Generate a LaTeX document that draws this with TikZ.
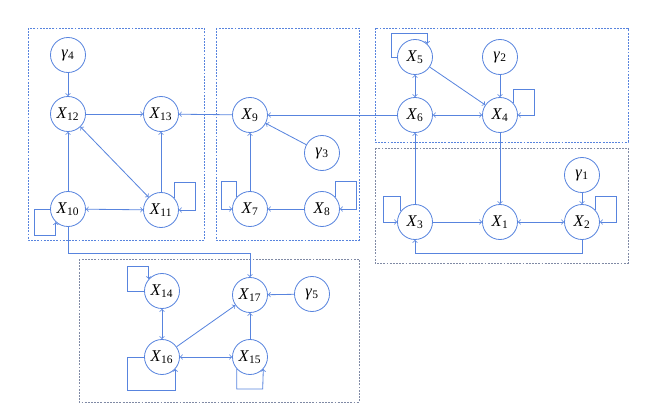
\documentclass[tikz,border=0pt]{standalone}
\usepackage{fontspec}
\setmainfont{Liberation Serif}
\usepackage{tikz}
\definecolor{netblue}{RGB}{88,132,222}
\definecolor{boxgray}{RGB}{128,138,165}
\newcommand{\Xv}[1]{\textit{X}\textsubscript{#1}}
\newcommand{\Gv}[1]{\textit{γ}\textsubscript{#1}}
\def\Network{
    \draw[cluster] (28,28) rectangle (204,240);
    \draw[cluster] (216,28) rectangle (359,240);
    \draw[cluster] (375,28) rectangle (628,142);
    \draw[cluster,boxgray] (375,148) rectangle (628,263);
    \draw[cluster,boxgray] (79,259) rectangle (359,402);
    \node[var] (g4) at (68,55) {\Gv{4}};
    \node[var] (x12) at (68,114) {\Xv{12}};
    \node[var] (x13) at (161,114) {\Xv{13}};
    \node[var] (x10) at (68,209) {\Xv{10}};
    \node[var] (x11) at (161,210) {\Xv{11}};
    \node[var] (x9) at (250,115) {\Xv{9}};
    \node[var] (g3) at (322,153) {\Gv{3}};
    \node[var] (x7) at (250,209) {\Xv{7}};
    \node[var] (x8) at (322,209) {\Xv{8}};
    \node[var] (x5) at (415,57) {\Xv{5}};
    \node[var] (g2) at (500,57) {\Gv{2}};
    \node[var] (x6) at (415,115) {\Xv{6}};
    \node[var] (x4) at (500,115) {\Xv{4}};
    \node[var] (g1) at (582,175) {\Gv{1}};
    \node[var] (x3) at (415,222) {\Xv{3}};
    \node[var] (x1) at (500,222) {\Xv{1}};
    \node[var] (x2) at (582,222) {\Xv{2}};
    \node[var] (x14) at (162,291) {\Xv{14}};
    \node[var] (x17) at (250,295) {\Xv{17}};
    \node[var] (g5) at (312,294) {\Gv{5}};
    \node[var] (x16) at (162,357) {\Xv{16}};
    \node[var] (x15) at (250,357) {\Xv{15}};
}

\begin{document}
\begin{tikzpicture}[x=0.03cm,y=-0.03cm,
    cluster/.style={netblue,line width=0.5pt,dash pattern=on 1.6pt off 1.1pt},
    var/.style={circle,draw=netblue,line width=0.7pt,minimum size=1.05cm,inner sep=0pt,font=\fontsize{14}{16}\selectfont},
    edge/.style={netblue,line width=0.7pt,->},
    both/.style={netblue,line width=0.7pt,<->}]
    \useasboundingbox (0,0) rectangle (664,413);
    \Network

    \draw[edge] (g4) -- (x12);
    \draw[edge] (x12) -- (x13);
    \draw[edge] (x10) -- (x12);
    \draw[both] (x12) -- (x11);
    \draw[edge] (x11) -- (x13);
    \draw[both] (x10) -- (x11);
    \draw[edge] (x10.west) -| ++(-15.5,26) -| (x10.227);
    \draw[edge] (x11.42) |- ++(21,-15.3) |- (x11.east);

    \draw[edge] (x9) -- (x13);
    \draw[edge] (x6) -- (x9);
    \draw[edge] (g3) -- (x9);
    \draw[edge] (x7) -- (x9);
    \draw[edge] (x8) -- (x7);
    \draw[edge] (x7.138) |- ++(-15,-15.3) |- (x7.west);
    \draw[edge] (x8.42) |- ++(21,-15.3) |- (x8.east);

    \draw[both] (x5) -- (x6);
    \draw[edge] (x5) -- (x4);
    \draw[edge] (g2) -- (x4);
    \draw[both] (x6) -- (x4);
    \draw[edge] (x5.west) -| ++(-6,-24) -| (x5.47);
    \draw[edge] (x4.42) |- ++(21,-13.3) |- (x4.east);

    \draw[edge] (x4) -- (x1);
    \draw[edge] (x3) -- (x6);
    \draw[edge] (x3) -- (x1);
    \draw[both] (x1) -- (x2);
    \draw[edge] (g1) -- (x2);
    \draw[edge] (x3.143) |- ++(-17,-14.5) |- (x3.west);
    \draw[edge] (x2.42) |- ++(21,-13.3) |- (x2.east);
    \draw[edge] (x2.south) -- ++(0,13.5) -| (x3.south);

    \draw[edge] (x10.south) -- ++(0,26.5) -| (x17.north);
    \draw[both] (x14) -- (x16);
    \draw[edge] (x16) -- (x17);
    \draw[edge] (g5) -- (x17);
    \draw[edge] (x15) -- (x17);
    \draw[both] (x16) -- (x15);
    \draw[edge] (x14.west) -| ++(-16.5,-25) -| (x14.138);
    \draw[edge] (x16.west) -| ++(-16.5,33) -| (x16.318);
    \draw[edge] (x15.222) |- ++(26,20) -- (x15.318);
\end{tikzpicture}
\end{document}
